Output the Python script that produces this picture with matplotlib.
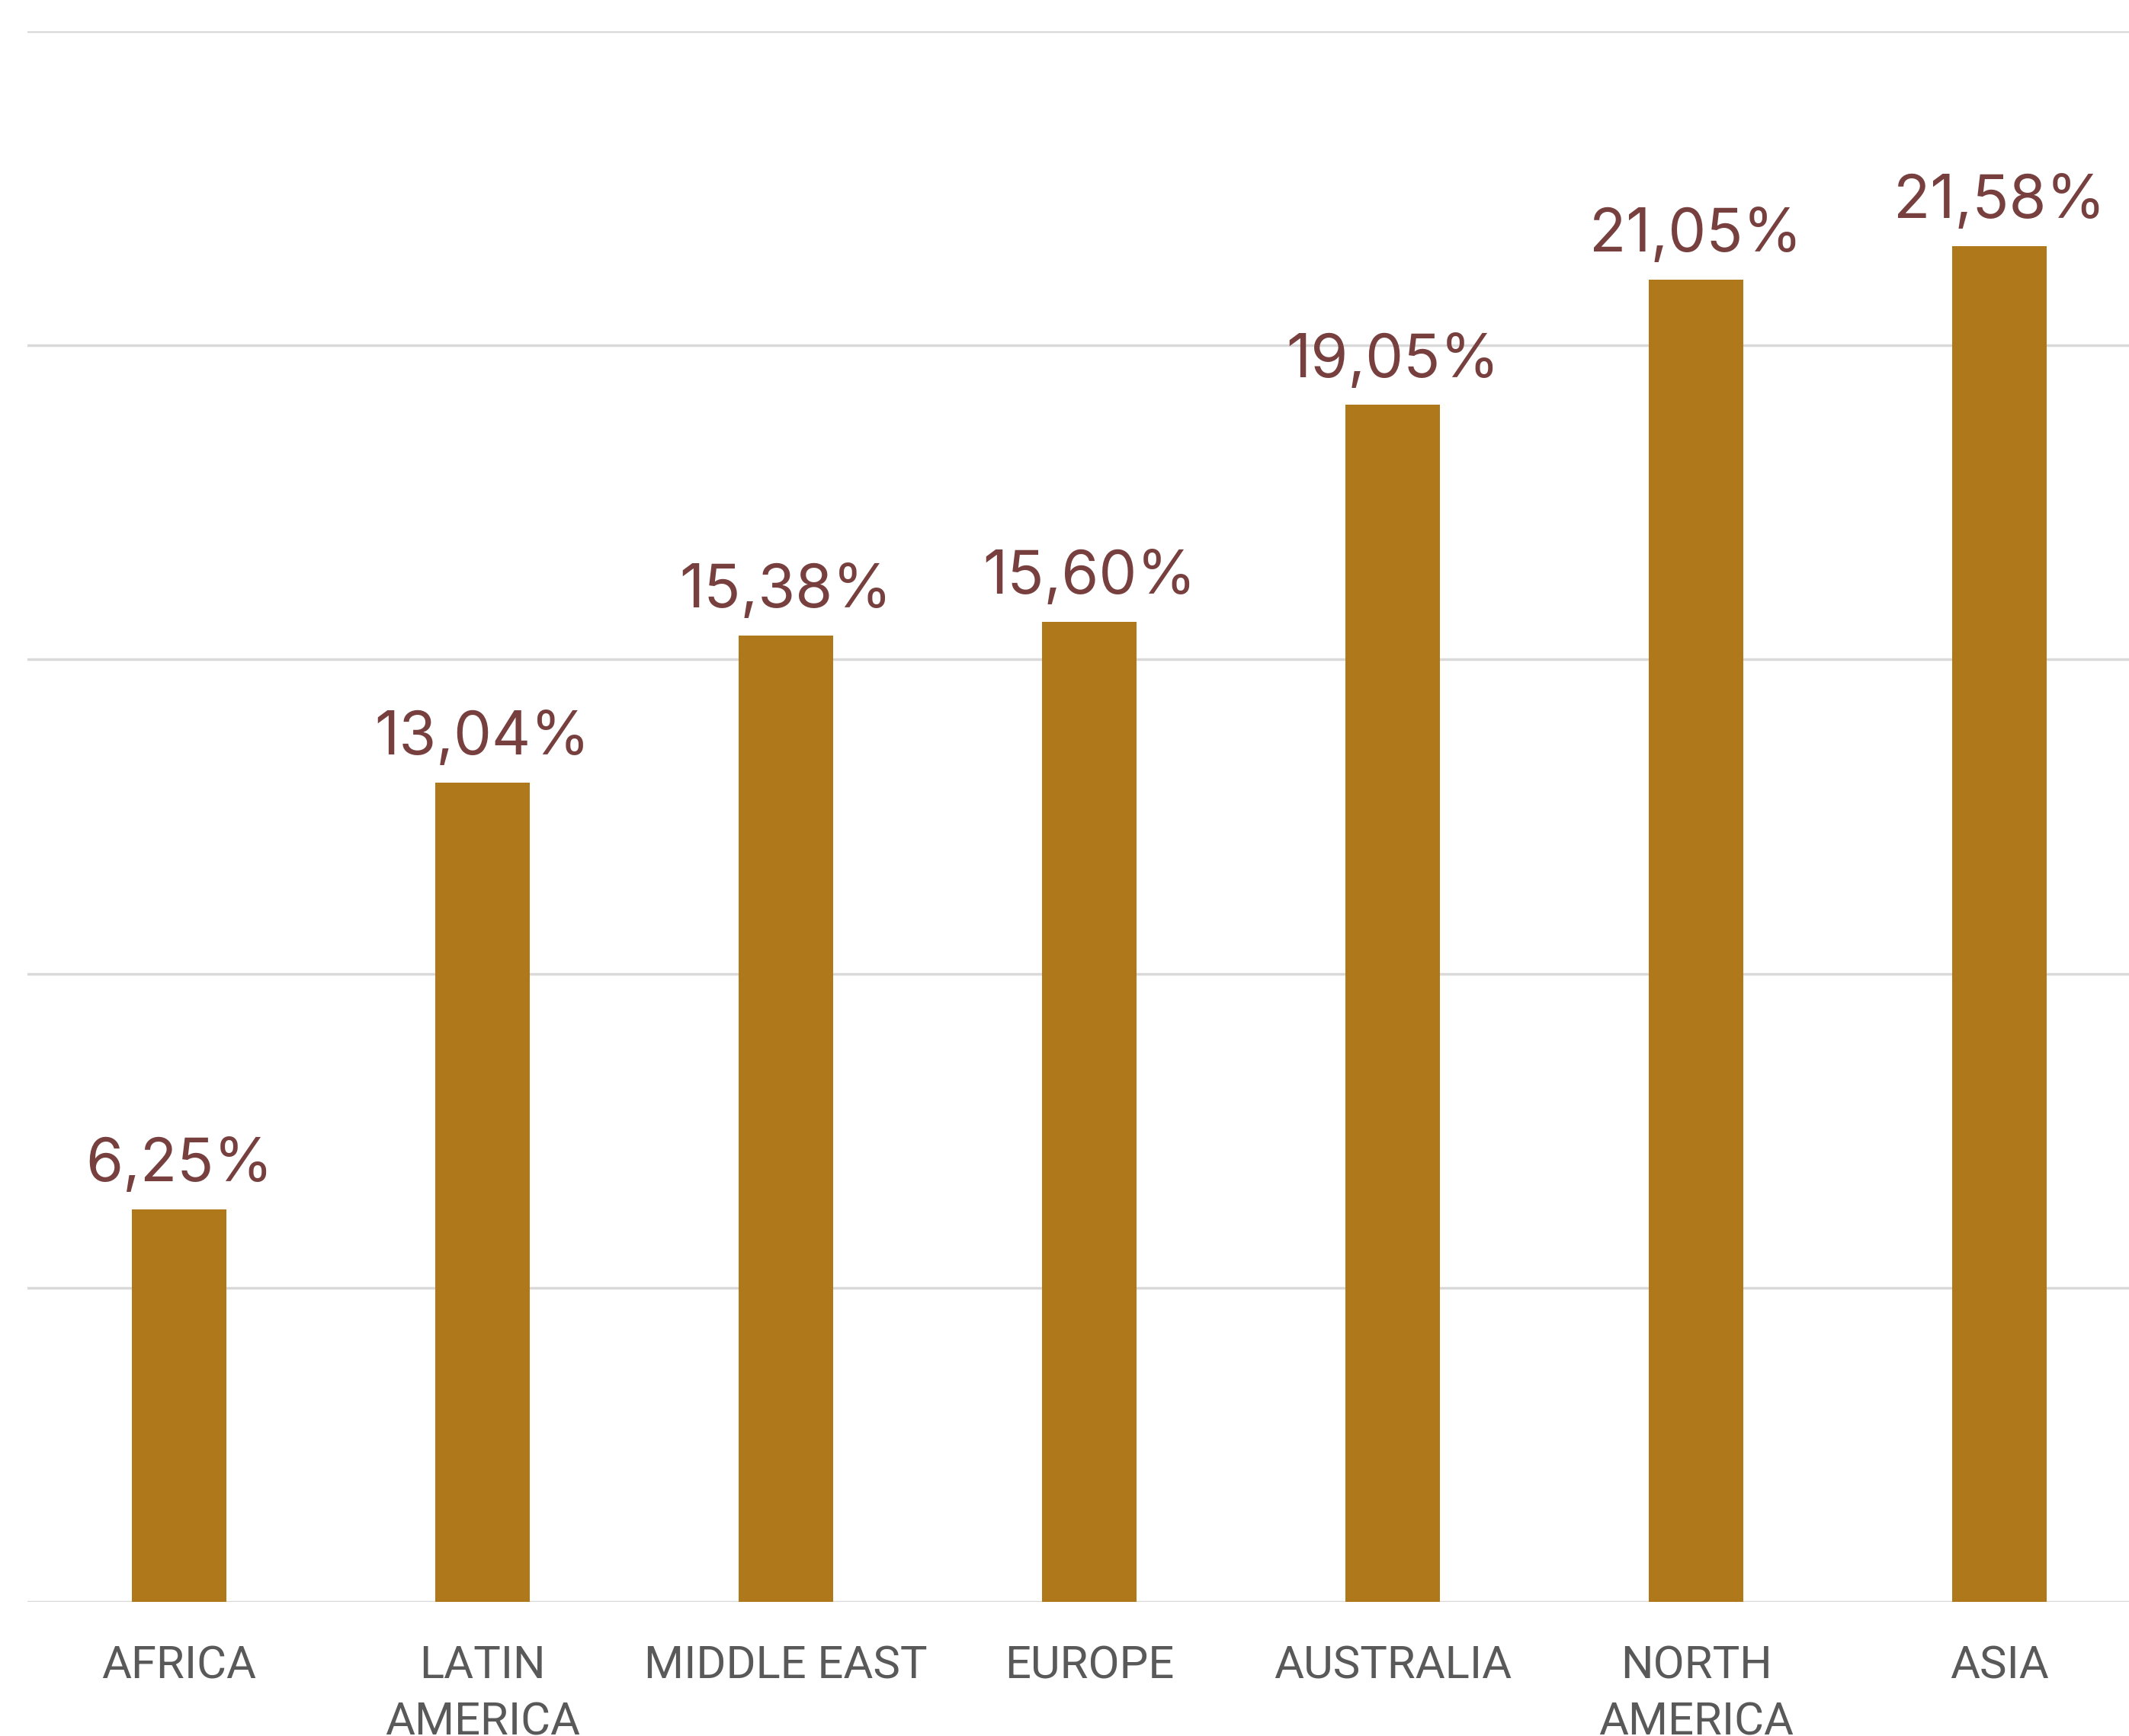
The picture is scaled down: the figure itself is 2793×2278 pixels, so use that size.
import matplotlib
matplotlib.use("Agg")
import matplotlib.pyplot as plt

regions = ["AFRICA", "LATIN\nAMERICA", "MIDDLE EAST", "EUROPE", "AUSTRALIA",
           "NORTH\nAMERICA", "ASIA"]
shares = [6.25, 13.04, 15.38, 15.60, 19.05, 21.05, 21.58]
value_labels = ["6,25%", "13,04%", "15,38%", "15,60%", "19,05%", "21,05%", "21,58%"]
y_ticks = [0, 5, 10, 15, 20, 25]

BAR_COLOR = "#AF781A"
LABEL_COLOR = "#77403F"
TICK_COLOR = "#595959"
GRID_COLOR = "#D9D9D9"

plt.rcParams["font.family"] = ["Roboto", "DejaVu Sans"]

fig = plt.figure(figsize=(27.93, 22.78), dpi=100)
ax = fig.add_axes([0.0129, 0.0773, 0.9975, 0.9047])

x = list(range(len(regions)))
bars = ax.bar(x, shares, width=0.313, color=BAR_COLOR, zorder=3)

# value labels above each bar
for rect, lab in zip(bars, value_labels):
    ax.annotate(lab, xy=(rect.get_x() + rect.get_width() / 2, rect.get_height()),
                xytext=(0, 15), textcoords="offset points",
                ha="center", va="bottom", fontsize=57, color=LABEL_COLOR,
                family=["Inter", "DejaVu Sans"])

ax.set_xlim(-0.5, len(regions) - 0.5)
ax.set_ylim(0, 25)
ax.set_yticks(y_ticks)
ax.yaxis.grid(True, color=GRID_COLOR, linewidth=2.5, zorder=0)
ax.set_xticks(x)
ax.set_xticklabels(regions, fontsize=43, color=TICK_COLOR, linespacing=1.38, va="top")
ax.tick_params(axis="x", length=0, pad=40)
ax.tick_params(axis="y", length=0, labelleft=False)
for s in ax.spines.values():
    s.set_visible(False)

fig.savefig("out.png", dpi=100)
